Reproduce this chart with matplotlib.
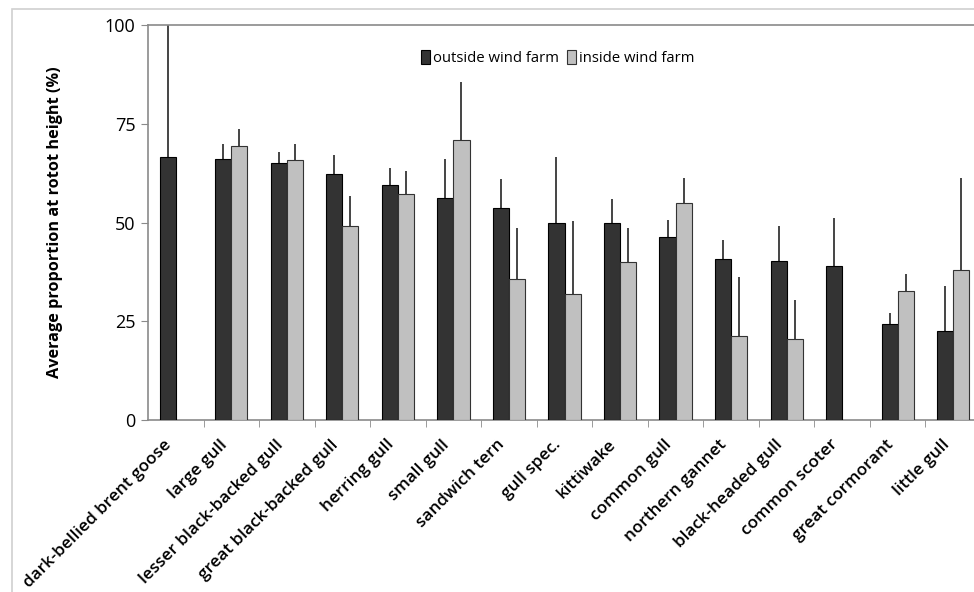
import numpy as np
import matplotlib
matplotlib.use("Agg")
import matplotlib.pyplot as plt
from matplotlib.patches import Rectangle
from matplotlib.ticker import FixedLocator
from matplotlib.transforms import ScaledTranslation

# Data
species = ["dark-bellied brent goose", "large gull", "lesser black-backed gull",
           "great black-backed gull", "herring gull", "small gull", "sandwich tern",
           "gull spec.", "kittiwake", "common gull", "northern gannet",
           "black-headed gull", "common scoter", "great cormorant", "little gull"]
outside = [66.7, 66.2, 65.0, 62.2, 59.6, 56.3, 53.6, 49.8, 49.8, 46.3, 40.7, 40.3, 39.1, 24.3, 22.6]
outside_top = [110.0, 69.9, 67.9, 67.0, 63.7, 66.2, 61.1, 66.5, 55.9, 50.7, 45.6, 49.0, 51.2, 27.0, 33.9]
inside = [np.nan, 69.4, 65.7, 49.2, 57.1, 70.8, 35.6, 31.9, 39.9, 55.0, 21.3, 20.6, np.nan, 32.7, 37.9]
inside_top = [np.nan, 73.6, 69.8, 56.6, 63.0, 85.5, 48.7, 50.3, 48.6, 61.2, 36.1, 30.4, np.nan, 36.9, 61.2]

DARK = "#333333"
LIGHT = "#c0c0c0"
GREY = "#8a8a8a"

plt.rcParams['font.family'] = ['Open Sans', 'DejaVu Sans']

fig = plt.figure(figsize=(9.74, 5.92), dpi=100)
ax = fig.add_axes([148 / 974, 172 / 592, 833 / 974, 395 / 592])

x = np.arange(len(species))
w = 0.29
out_err = np.array(outside_top) - np.array(outside)
in_err = np.array(inside_top) - np.array(inside)

ax.bar(x - w / 2, outside, w, color=DARK, edgecolor="black", linewidth=0.8,
       label="outside wind farm", zorder=3)
ax.bar(x + w / 2, inside, w, color=LIGHT, edgecolor="#333333", linewidth=0.8,
       label="inside wind farm", zorder=3)
ax.errorbar(x - w / 2, outside, yerr=[np.zeros(len(x)), out_err], fmt="none",
            ecolor="#444444", elinewidth=1.4, capsize=0, zorder=2)
ax.errorbar(x + w / 2, inside, yerr=[np.zeros(len(x)), in_err], fmt="none",
            ecolor="#444444", elinewidth=1.4, capsize=0, zorder=2)

ax.set_xlim(-0.5, len(species) - 0.5)
ax.set_ylim(0, 100)
ax.set_yticks([0, 25, 50, 75, 100])
ax.tick_params(axis="y", labelsize=13, length=5, color=GREY, pad=4)
ax.set_xticks(x)
ax.set_xticklabels(species, rotation=45, ha="right", va="top",
                   rotation_mode="anchor", fontsize=12.3, fontweight="semibold")
ax.tick_params(axis="x", which="major", length=0, pad=12)
ax.xaxis.set_minor_locator(FixedLocator(x[:-1] + 0.5))
ax.tick_params(axis="x", which="minor", length=5, color=GREY)

# nudge the slanted labels a bit to the left, as in the original
shift = ScaledTranslation(-0.12, 0, fig.dpi_scale_trans)
for lab in ax.get_xticklabels():
    lab.set_transform(lab.get_transform() + shift)

for s in ax.spines.values():
    s.set_color(GREY)
    s.set_linewidth(1.2)

ax.set_ylabel("Average proportion at rotot height (%)", fontsize=11.7,
              fontweight="bold", labelpad=30)

ax.legend(loc="upper center", bbox_to_anchor=(0.492, 0.97), ncol=2, frameon=False,
          fontsize=10.7, handlelength=0.6, handleheight=1.0, handletextpad=0.2,
          columnspacing=0.5)

# light outer frame of the original figure
fig.add_artist(Rectangle((12 / 974, -0.1), 1.2, (592 - 9) / 592 + 0.1,
                         transform=fig.transFigure, fill=False,
                         edgecolor="#d0d0d0", linewidth=1.2))

fig.savefig("out.png", dpi=100)
